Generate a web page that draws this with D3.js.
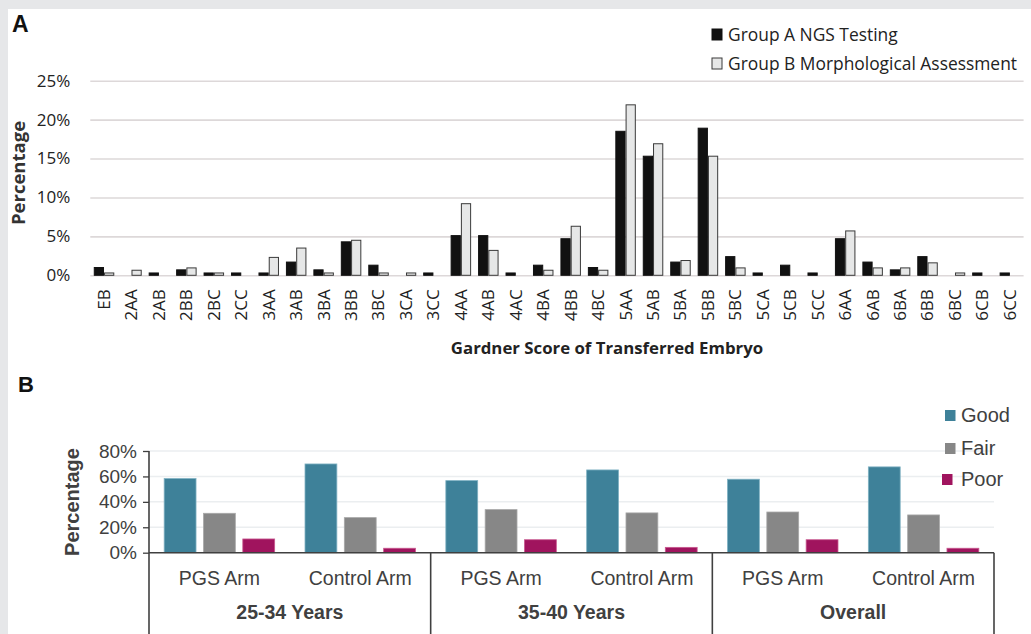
<!DOCTYPE html>
<html>
<head>
<meta charset="utf-8">
<script src="https://cdn.jsdelivr.net/npm/d3@7"></script>
<style>
  body { margin: 0; background: #e6e7e9; }
  svg { display: block; }
</style>
</head>
<body>
<div id="chart"></div>
<script>
// panel A data (percent)
const grades = ['EB','2AA','2AB','2BB','2BC','2CC','3AA','3AB','3BA','3BB','3BC','3CA','3CC',
  '4AA','4AB','4AC','4BA','4BB','4BC','5AA','5AB','5BA','5BB','5BC','5CA','5CB','5CC',
  '6AA','6AB','6BA','6BB','6BC','6CB','6CC'];
const groupA = [1.0,0,0.3,0.7,0.3,0.3,0.3,1.7,0.7,4.3,1.3,0,0.3,
  5.1,5.1,0.3,1.3,4.7,1.0,18.5,15.3,1.7,18.9,2.4,0.3,1.3,0.3,
  4.7,1.7,0.7,2.4,0,0.3,0.3];
const groupB = [0.3,0.65,0,0.95,0.3,0,2.3,3.5,0.3,4.5,0.3,0.3,0,
  9.2,3.2,0,0.65,6.3,0.65,21.9,16.9,1.9,15.3,0.95,0,0,0,
  5.7,0.95,0.95,1.6,0.3,0,0];
const seriesA = ['Group A NGS Testing', 'Group B Morphological Assessment'];
const ticksA = [0, 5, 10, 15, 20, 25];

// panel B data (percent), order: 25-34 PGS, 25-34 Control, 35-40 PGS, ...
const ageGroups = ['25-34 Years', '35-40 Years', 'Overall'];
const arms = ['PGS Arm', 'Control Arm'];
const quality = ['Good', 'Fair', 'Poor'];
const good = [58.3, 69.8, 56.7, 65.1, 57.8, 67.5];
const fair = [31.0, 27.6, 33.9, 31.3, 32.0, 29.7];
const poor = [10.8, 3.5, 10.2, 4.2, 10.2, 3.5];
const ticksB = [0, 20, 40, 60, 80];

const W = 1031, H = 634;
const svg = d3.select('#chart').append('svg').attr('width', W).attr('height', H);
svg.append('rect').attr('width', W).attr('height', H).attr('fill', '#e6e7e9');
svg.append('rect').attr('x', 8).attr('y', 9).attr('width', W - 8).attr('height', H - 9).attr('fill', '#fff');

// ---------- panel A ----------
const fontA = '"Open Sans", sans-serif';
const xA = d3.scaleBand().domain(grades).range([90.3, 1023.6]).paddingInner(0.29).paddingOuter(0.145);
const xSubA = d3.scaleBand().domain([0, 1]).range([0, xA.bandwidth()]).paddingInner(0.1);
const yA = d3.scaleLinear().domain([0, 25]).range([275.3, 80.7]);

svg.append('text').attr('x', 12).attr('y', 32).text('A')
  .style('font', 'bold 23px "Liberation Sans", Arial, sans-serif').attr('fill', '#111');

const gyA = svg.append('g').attr('transform', 'translate(90.3,0)')
  .call(d3.axisLeft(yA).tickValues(ticksA).tickFormat(d => d + '%')
    .tickSize(-(1023.6 - 90.3)).tickPadding(20));
gyA.select('.domain').remove();
gyA.selectAll('line').attr('stroke', '#ddd8d9').attr('stroke-width', 1.6);
gyA.selectAll('text').style('font', '17px ' + fontA).attr('fill', '#222');

svg.append('text').attr('transform', 'translate(25,173) rotate(-90)')
  .attr('text-anchor', 'middle').text('Percentage')
  .style('font', 'bold 18.5px ' + fontA).attr('fill', '#333');

const gxA = svg.append('g').attr('transform', 'translate(0,275.3)')
  .call(d3.axisBottom(xA).tickSize(0));
gxA.select('.domain').remove();
gxA.selectAll('text').attr('transform', 'rotate(-90)').attr('text-anchor', 'end')
  .attr('x', -14).attr('y', 0).attr('dy', '0.35em')
  .style('font', '17px ' + fontA).attr('fill', '#222');

svg.append('text').attr('x', 607).attr('y', 354).attr('text-anchor', 'middle')
  .text('Gardner Score of Transferred Embryo')
  .style('font', 'bold 16.8px ' + fontA).attr('fill', '#222');

const fillsA = ['#111111', '#e6e7e7'];
const strokesA = ['#111111', '#3a3a3a'];
[groupA, groupB].forEach((vals, s) => {
  svg.append('g').selectAll('rect').data(grades).enter().append('rect')
    .attr('x', (d) => xA(d) + xSubA(s))
    .attr('width', xSubA.bandwidth())
    .attr('y', (d, i) => yA(vals[i]))
    .attr('height', (d, i) => yA(0) - yA(vals[i]))
    .attr('fill', fillsA[s]).attr('stroke', strokesA[s]).attr('stroke-width', 1)
    .style('display', (d, i) => vals[i] > 0 ? null : 'none');
});

const legA = svg.append('g').selectAll('g').data(seriesA).enter().append('g')
  .attr('transform', (d, i) => 'translate(712,' + (29 + i * 29) + ')');
legA.append('rect').attr('width', 10).attr('height', 11)
  .attr('fill', (d, i) => fillsA[i]).attr('stroke', (d, i) => strokesA[i]);
legA.append('text').attr('x', 16).attr('y', 11.5).text(d => d)
  .style('font', '17.4px ' + fontA).attr('fill', '#222');

// ---------- panel B ----------
const fontB = '"Liberation Sans", Arial, sans-serif';
const textB = '#404040';
const colorsB = { Good: '#3e8199', Fair: '#878787', Poor: '#a0145e' };
const strokesB = { Good: '#7fb1c2', Fair: '#a8a8a8', Poor: '#c8588f' };
const valsB = { Good: good, Fair: fair, Poor: poor };

const left = 149, right = 994, y0 = 552.7;
const xGroup = d3.scaleBand().domain(ageGroups).range([left, right]);
const xArm = d3.scaleBand().domain(arms).range([0, xGroup.bandwidth()]);
const xQ = d3.scaleBand().domain(quality).range([0, xArm.bandwidth()]).paddingInner(0.19).paddingOuter(0.386);
const yB = d3.scaleLinear().domain([0, 80]).range([y0, 451]);

svg.append('text').attr('x', 18).attr('y', 392).text('B')
  .style('font', 'bold 22px ' + fontB).attr('fill', '#111');

// gridlines
svg.append('g').selectAll('line').data(ticksB.slice(1)).enter().append('line')
  .attr('x1', left).attr('x2', right).attr('y1', d => yB(d)).attr('y2', d => yB(d))
  .attr('stroke', '#ebeef0').attr('stroke-width', 1.5);

const gyB = svg.append('g').attr('transform', 'translate(' + left + ',0)')
  .call(d3.axisLeft(yB).tickValues(ticksB).tickFormat(d => d + '%').tickSize(6).tickPadding(6));
gyB.select('.domain').remove();
gyB.selectAll('line').attr('stroke', textB).attr('stroke-width', 1.3);
gyB.selectAll('text').style('font', '19px ' + fontB).attr('fill', textB);

svg.append('text').attr('transform', 'translate(79,502) rotate(-90)')
  .attr('text-anchor', 'middle').text('Percentage')
  .style('font', 'bold 20px ' + fontB).attr('fill', textB);

// bars
ageGroups.forEach((g, gi) => {
  arms.forEach((a, ai) => {
    const idx = gi * arms.length + ai;
    const x0 = xGroup(g) + xArm(a);
    quality.forEach(q => {
      const v = valsB[q][idx];
      svg.append('rect')
        .attr('x', x0 + xQ(q)).attr('width', xQ.bandwidth())
        .attr('y', yB(v)).attr('height', y0 - yB(v))
        .attr('fill', colorsB[q]).attr('stroke', strokesB[q]).attr('stroke-width', 0.8);
    });
  });
});

// x axis + separators
svg.append('line').attr('x1', left).attr('x2', right).attr('y1', y0).attr('y2', y0)
  .attr('stroke', textB).attr('stroke-width', 1.6);
const seps = ageGroups.map(g => xGroup(g)).concat([right]);
svg.append('g').selectAll('line').data(seps).enter().append('line')
  .attr('x1', d => d).attr('x2', d => d).attr('y1', d => d === left ? 451 : y0).attr('y2', H)
  .attr('stroke', textB).attr('stroke-width', 1.6);

// arm labels and group labels
ageGroups.forEach(g => {
  arms.forEach(a => {
    svg.append('text').attr('x', xGroup(g) + xArm(a) + xArm.bandwidth() / 2).attr('y', 585)
      .attr('text-anchor', 'middle').text(a)
      .style('font', '19.5px ' + fontB).attr('fill', textB);
  });
  svg.append('text').attr('x', xGroup(g) + xGroup.bandwidth() / 2).attr('y', 619)
    .attr('text-anchor', 'middle').text(g)
    .style('font', 'bold 19.5px ' + fontB).attr('fill', textB);
});

// legend B
const legB = svg.append('g').selectAll('g').data(quality).enter().append('g')
  .attr('transform', (d, i) => 'translate(' + (d === 'Poor' ? 942 : 945) + ',' + [410, 443, 474][i] + ')');
legB.append('rect').attr('width', 10.5).attr('height', 11).attr('fill', d => colorsB[d]);
legB.append('text').attr('x', (d) => d === 'Poor' ? 19 : 16).attr('y', 12).text(d => d)
  .style('font', '20px ' + fontB).attr('fill', textB);
</script>
</body>
</html>
